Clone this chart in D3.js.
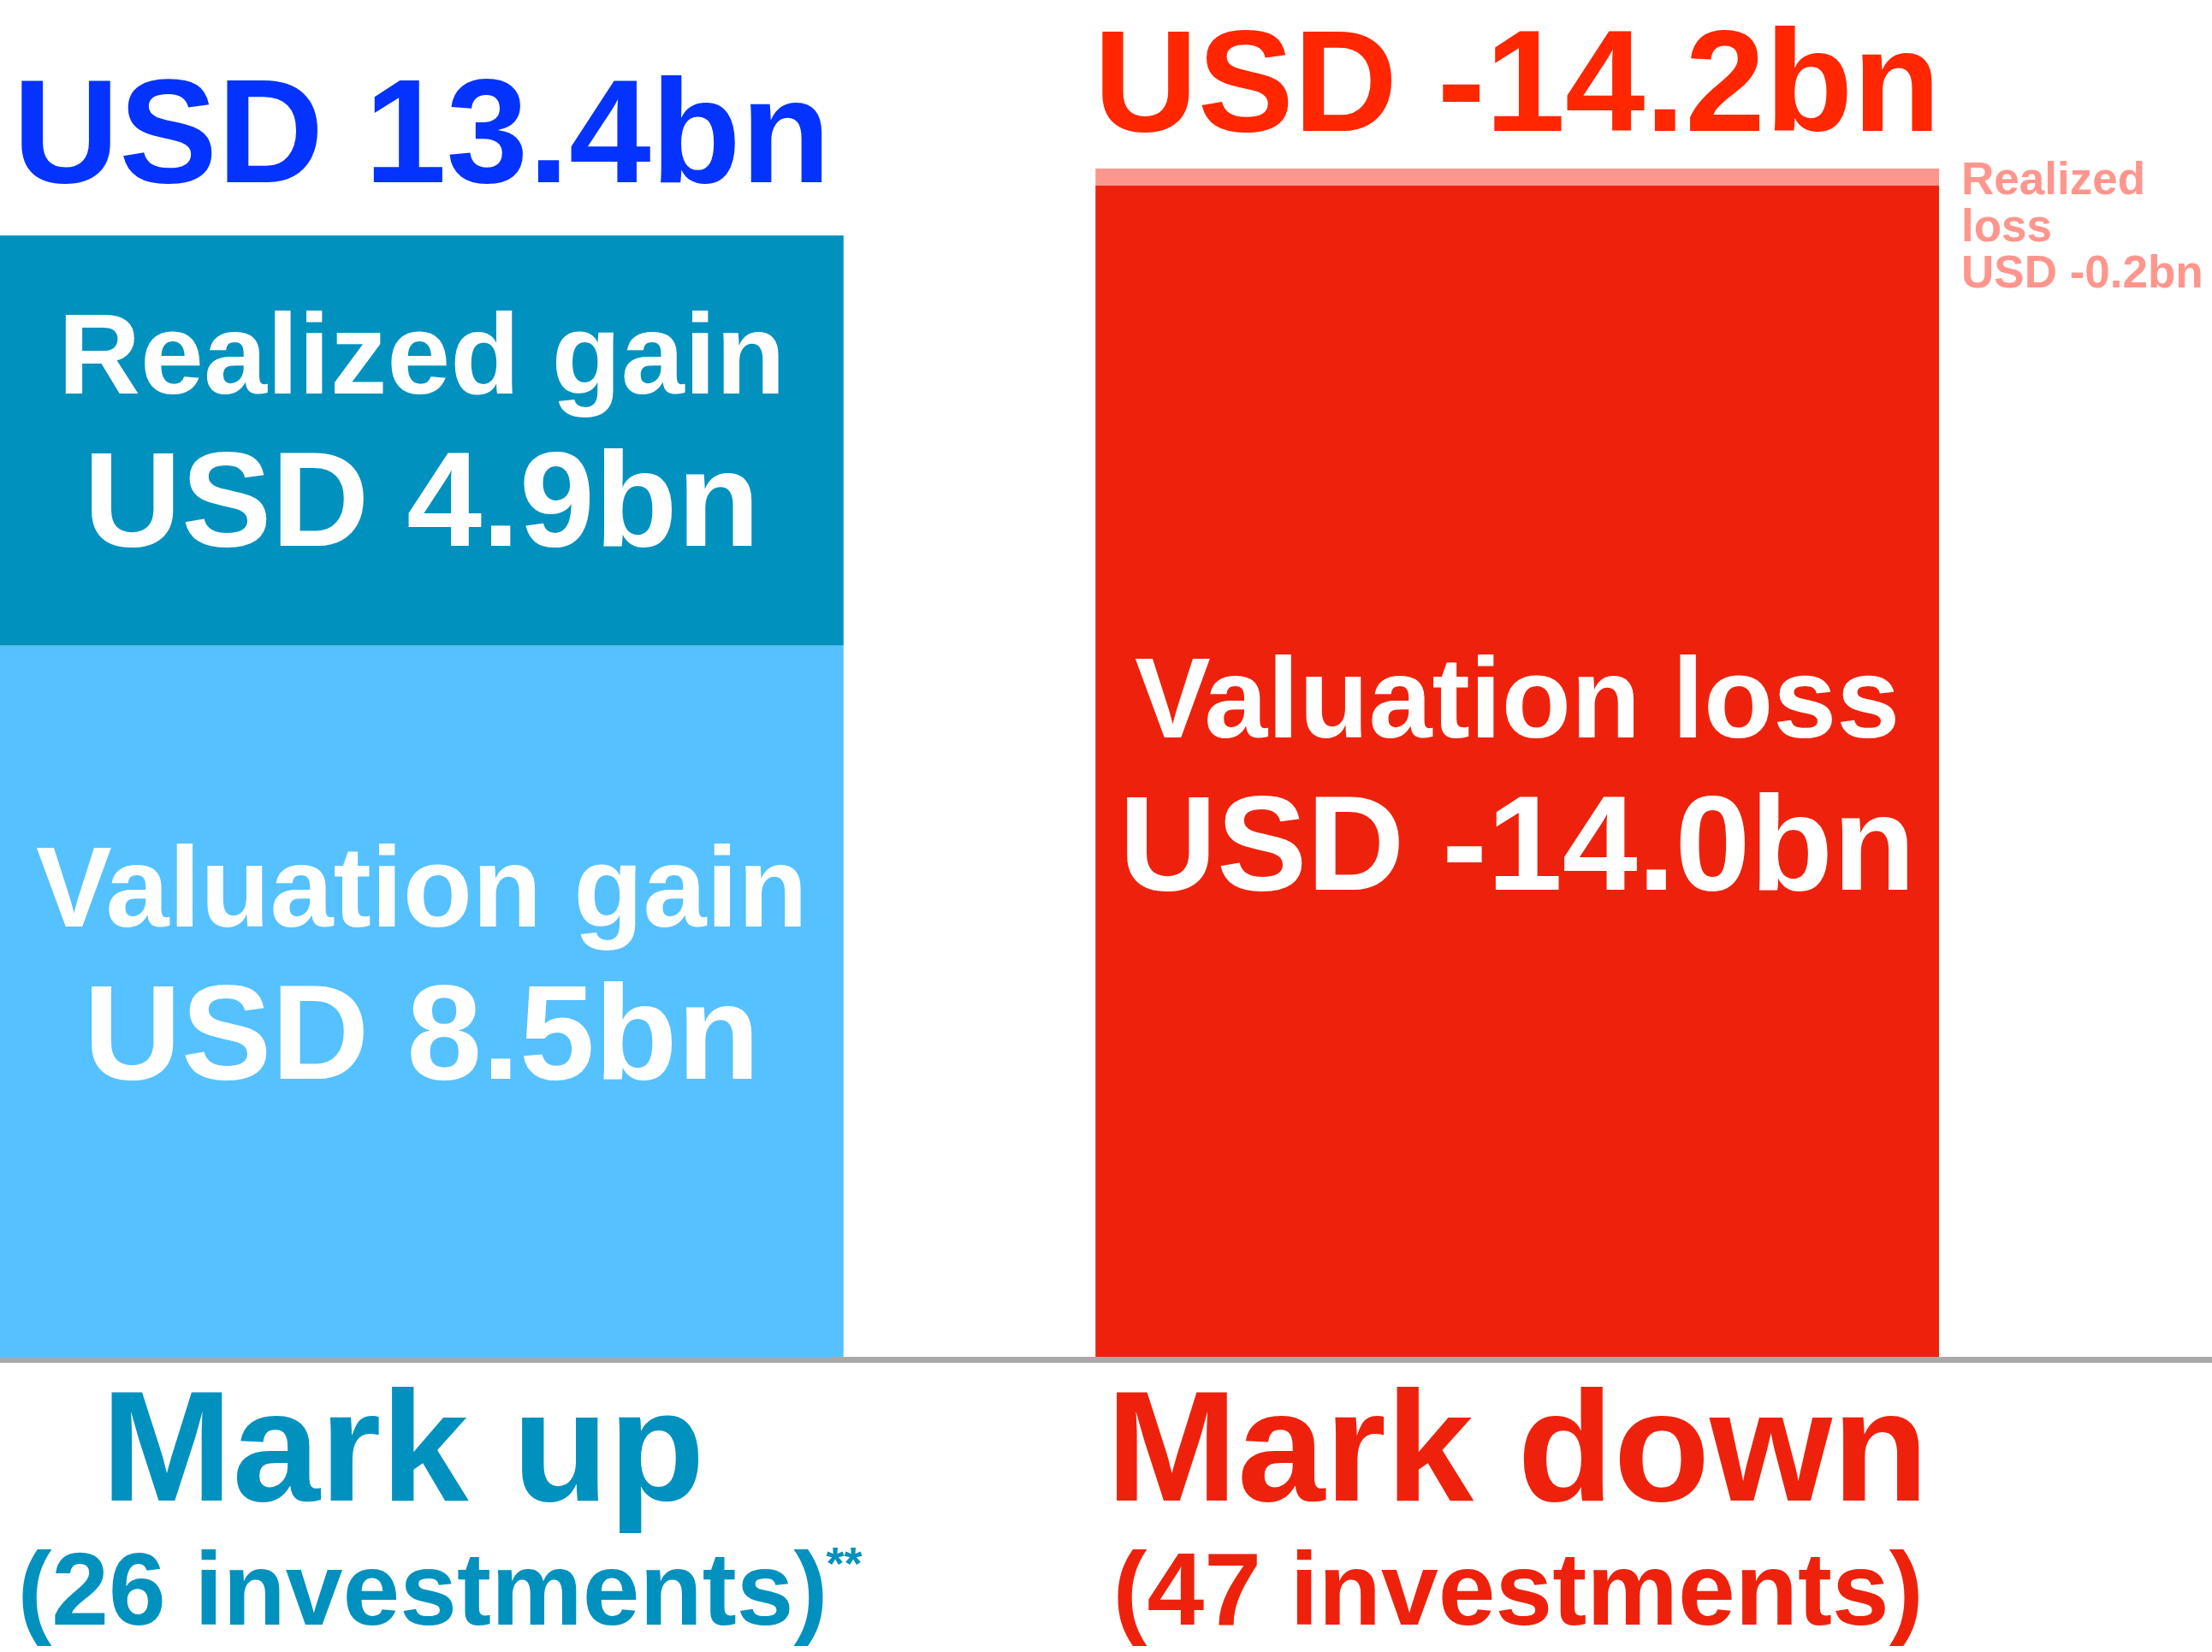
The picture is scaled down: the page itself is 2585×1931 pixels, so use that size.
<!DOCTYPE html>
<html>
<head>
<meta charset="utf-8">
<script src="https://cdn.jsdelivr.net/npm/d3@7"></script>
<style>
  html, body { margin: 0; padding: 0; background: #fff; }
  svg { display: block; }
  text { font-family: "Liberation Sans", Arial, sans-serif; font-weight: bold; }
</style>
</head>
<body>
<svg></svg>
<script>
var svgWidth = 2585;
var svgHeight = 1931;

// chart data
var categories = ['Mark up', 'Mark down'];
var totals = [13.4, -14.2];
var totalLabels = ['USD 13.4bn', 'USD -14.2bn'];
var investmentCounts = [26, 47];

var segmentNames = ['Valuation gain', 'Realized gain', 'Valuation loss', 'Realized loss'];
var segmentCategory = ['Mark up', 'Mark up', 'Mark down', 'Mark down'];
var segmentValues = [8.5, 4.9, -14.0, -0.2];
var segmentValueLabels = ['USD 8.5bn', 'USD 4.9bn', 'USD -14.0bn', 'USD -0.2bn'];

var catColor = { 'Mark up': '#0191BF', 'Mark down': '#EE220C' };
var totalColor = { 'Mark up': '#0433FF', 'Mark down': '#FF2600' };
var segColor = {
    'Valuation gain': '#56C1FF',
    'Realized gain': '#0191BF',
    'Valuation loss': '#EE220C',
    'Realized loss': '#FF968D'
};

var svg = d3.select('svg')
            .attr('width', svgWidth)
            .attr('height', svgHeight)
            .style('background', '#fff');

var baseY = 1586;

var x = d3.scaleBand()
          .domain(categories)
          .range([0, 2266])
          .paddingInner(0.23)
          .paddingOuter(0);

var y = d3.scaleLinear()
          .domain([0, d3.max(totals, d => Math.abs(d))])
          .range([baseY, 197]);

/* stack segments per category from the baseline up */
var running = {};
var segs = segmentNames.map((name, i) => {
    var cat = segmentCategory[i];
    var v = Math.abs(segmentValues[i]);
    var y0 = running[cat] || 0;
    running[cat] = y0 + v;
    return { name: name, cat: cat, y0: y0, y1: y0 + v, label: segmentValueLabels[i] };
});

svg.selectAll('rect.seg')
   .data(segs)
   .enter()
   .append('rect')
   .attr('class', 'seg')
   .attr('x', d => x(d.cat))
   .attr('width', x.bandwidth())
   .attr('y', d => y(d.y1))
   .attr('height', d => y(d.y0) - y(d.y1))
   .style('fill', d => segColor[d.name]);

// baseline
svg.append('line')
   .attr('x1', 0).attr('x2', svgWidth)
   .attr('y1', baseY + 3.5).attr('y2', baseY + 3.5)
   .style('stroke', '#A9A9A9')
   .style('stroke-width', 7);

/* labels inside the big segments */
var insideOffset = { 'Realized gain': -55, 'Valuation gain': -87, 'Valuation loss': -39 };
var inside = segs.filter(d => insideOffset[d.name] !== undefined);

inside.forEach(d => {
    var cx = x(d.cat) + x.bandwidth() / 2;
    var mid = (y(d.y0) + y(d.y1)) / 2;
    var first = mid + insideOffset[d.name];
    svg.append('text')
       .text(d.name)
       .attr('x', cx).attr('y', first)
       .attr('text-anchor', 'middle')
       .style('font-size', '133px')
       .style('fill', '#fff');
    svg.append('text')
       .text(d.label)
       .attr('x', cx).attr('y', first + 178)
       .attr('text-anchor', 'middle')
       .style('font-size', '158px')
       .style('fill', '#fff');
});

/* small realized loss note beside the bar */
var small = segs.find(d => d.name === 'Realized loss');
var smallLines = ['Realized', 'loss', small.label];
svg.selectAll('text.note')
   .data(smallLines)
   .enter()
   .append('text')
   .attr('class', 'note')
   .text(d => d)
   .attr('x', x(small.cat) + x.bandwidth() + 26)
   .attr('y', (d, i) => y(small.y1) + 30 + i * 54.5)
   .style('font-size', '53px')
   .style('fill', segColor['Realized loss']);

/* totals above bars */
var totalOffset = [62, 44];
var totalSize = [172, 168];
svg.selectAll('text.total')
   .data(categories)
   .enter()
   .append('text')
   .attr('class', 'total')
   .text((d, i) => totalLabels[i])
   .attr('x', d => x(d) + x.bandwidth() / 2)
   .attr('y', (d, i) => y(Math.abs(totals[i])) - totalOffset[i])
   .attr('text-anchor', 'middle')
   .style('font-size', (d, i) => totalSize[i] + 'px')
   .style('fill', d => totalColor[d]);

/* category names under the baseline */
var nameShift = [-22, 0];
svg.selectAll('text.cat')
   .data(categories)
   .enter()
   .append('text')
   .attr('class', 'cat')
   .text(d => d)
   .attr('x', (d, i) => x(d) + x.bandwidth() / 2 + nameShift[i])
   .attr('y', 1754)
   .attr('text-anchor', 'middle')
   .style('font-size', '184px')
   .style('fill', d => catColor[d]);

var counts = svg.selectAll('text.count')
   .data(categories)
   .enter()
   .append('text')
   .attr('class', 'count')
   .text((d, i) => '(' + investmentCounts[i] + ' investments)')
   .attr('x', d => x(d) + x.bandwidth() / 2 + 1)
   .attr('y', 1899)
   .attr('text-anchor', 'middle')
   .style('font-size', '120px')
   .style('fill', d => catColor[d]);

// footnote marker after the first count
var firstBox = counts.nodes()[0].getBBox();
svg.append('text')
   .text('**')
   .attr('x', firstBox.x + firstBox.width - 2)
   .attr('y', 1846)
   .style('font-size', '54px')
   .style('fill', catColor['Mark up']);
</script>
</body>
</html>
